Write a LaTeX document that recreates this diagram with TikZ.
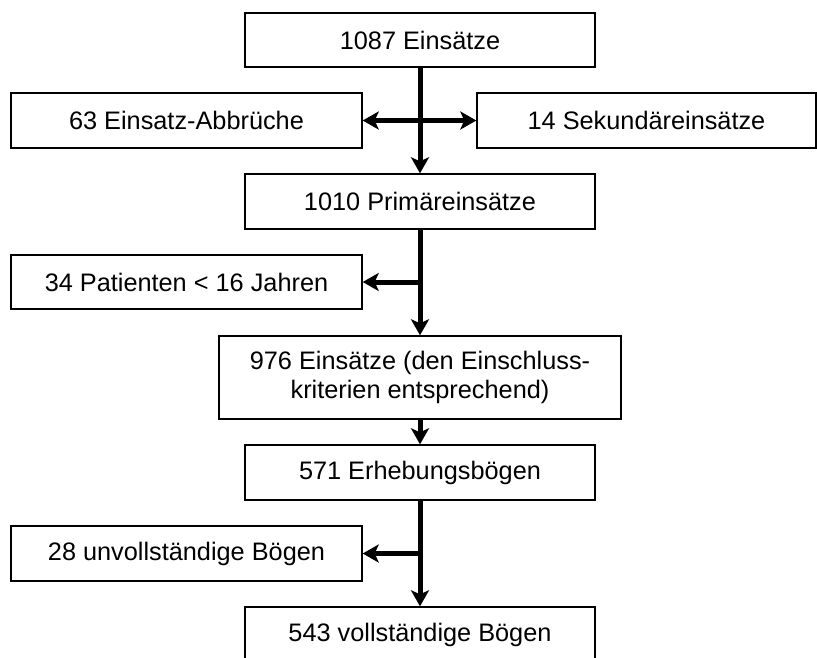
\documentclass[tikz,border=0pt]{standalone}
\usepackage{fontspec}
\setmainfont{Liberation Sans}
\usetikzlibrary{arrows.meta}

\begin{document}
\begin{tikzpicture}[line cap=butt,line join=miter,x=1pt,y=-1pt,
  kasten/.style={draw,line width=1.4pt,inner sep=0pt,minimum height=55pt,font=\fontsize{25.3pt}{29pt}\selectfont},
  pfeil/.style={line width=5pt,-{Stealth[length=16pt,width=18pt,inset=4pt]}}]
\useasboundingbox (0,0) rectangle (817,657);
\clip (0,0) rectangle (817,657);
\node[kasten,minimum width=350pt,minimum height=54pt] (einsatz) at (420,40) {1087 Einsätze};
\node[kasten,minimum width=351pt] (abbruch) at (186.5,120.5) {63 Einsatz-Abbrüche};
\node[kasten,minimum width=339pt] (sekundaer) at (646.5,120.5) {14 Sekundäreinsätze};
\node[kasten,minimum width=350pt] (primaer) at (420,201.5) {1010 Primäreinsätze};
\node[kasten,minimum width=351pt,minimum height=54pt] (kinder) at (186.5,282) {34 Patienten < 16 Jahren};
\node[kasten,minimum width=402pt,minimum height=83pt,align=center] (kriterien) at (420,377.5) {976 Einsätze (den Einschluss-\\kriterien entsprechend)};
\node[kasten,minimum width=350pt] (boegen) at (420,472.5) {571 Erhebungsbögen};
\node[kasten,minimum width=351pt] (unvoll) at (186.5,553.5) {28 unvollständige Bögen};
\node[kasten,minimum width=350pt] (voll) at (420,634.5) {543 vollständige Bögen};
\coordinate (j1) at (einsatz.south |- abbruch.east);
\coordinate (j2) at (primaer.south |- kinder.east);
\coordinate (j3) at (boegen.south |- unvoll.east);
\draw[pfeil] (einsatz) -- (primaer);
\draw[pfeil] (j1) -- (abbruch);
\draw[pfeil] (j1) -- (sekundaer);
\draw[pfeil] (primaer) -- (kriterien);
\draw[pfeil] (j2) -- (kinder);
\draw[pfeil] (kriterien) -- (boegen);
\draw[pfeil] (boegen) -- (voll);
\draw[pfeil] (j3) -- (unvoll);
\end{tikzpicture}
\end{document}
